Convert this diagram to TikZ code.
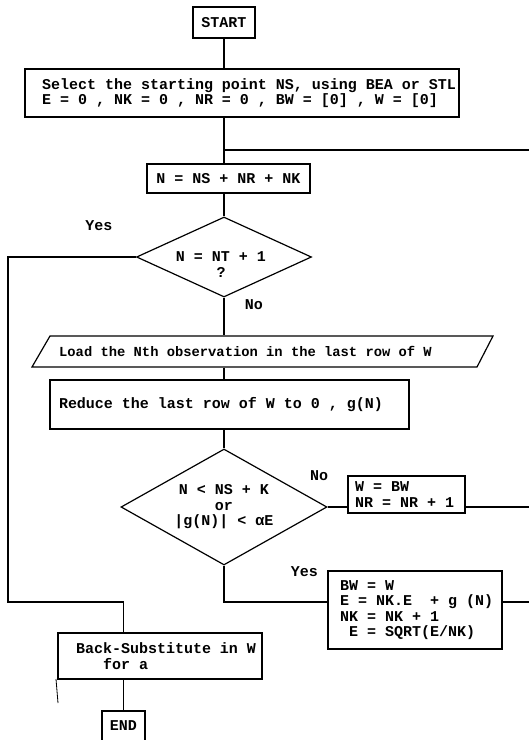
\documentclass[tikz,border=0pt]{standalone}
\usepackage{fontspec}
\newfontfamily\flowfont{Liberation Mono}
\newcommand\flowsz[2]{\fontsize{#1}{#2}\selectfont\fontdimen2\font=0.6em\fontdimen3\font=0pt\fontdimen4\font=0pt\relax}
\newcommand\monospaces{\spaceskip=0.6em\relax\xspaceskip=0.6em\relax}
\usetikzlibrary{shapes.geometric}
\begin{document}
\begin{tikzpicture}[x=1pt,y=-1pt,line width=1.2pt,
  txt/.style={font=\flowfont\bfseries\flowsz{15}{15.5},execute at begin node={\monospaces}},
  box/.style={txt,draw,align=left,inner ysep=0pt},
  decision/.style={txt,draw,shape=diamond,inner sep=0pt,align=center},
  lbl/.style={txt,inner sep=0pt}]
\useasboundingbox (0,0) rectangle (529,740);
% boxes
\node[box,minimum width=62pt,minimum height=31pt] (start) at (224,22.5) {START};
\node[box,text width=400pt,inner xsep=17pt,minimum height=48pt] (init) at (242,93)
  {\mbox{\monospaces Select the starting point NS, using BEA or STL}\\\mbox{\monospaces E = 0 , NK = 0 , NR = 0 , BW = [0] , W = [0]}};
\node[box,minimum width=163pt,minimum height=29pt] (nbox) at (228.5,178.5) {N = NS + NR + NK};
\node[decision,aspect=2.19,minimum width=175pt,minimum height=80pt] (d1) at (224,257) {};
\node[lbl,align=center] (d1text) at (221,264.5) {N = NT + 1\\?};
\node[lbl,font=\flowfont\bfseries\flowsz{13.8}{15},minimum height=31pt] (load) at (245.5,351.5)
  {Load the Nth observation in the last row of W};
\draw (50,336) -- (493,336) -- (477,367) -- (32,367) -- cycle;
\node[box,text width=341pt,inner xsep=9pt,minimum height=49pt] (reduce) at (229.5,404.5)
  {Reduce the last row of W to 0 , g(N)};
\node[decision,aspect=1.78,minimum width=206pt,minimum height=116pt] (d2) at (224,507)
  {N < NS + K\\or\\|g(N)| < αE};
\node[box,text width=103pt,inner xsep=7pt,minimum height=37pt] (wbw) at (406.5,494.5)
  {W = BW\\NR = NR + 1};
\node[box,text width=150pt,inner xsep=12pt,minimum height=78pt] (bw) at (415,610)
  {BW = W\\\mbox{\monospaces E = NK.E~~+ g (N)}\\NK = NK + 1\\\hspace*{0.6em}E = SQRT(E/NK)};
\node[box,text width=168pt,inner xsep=18pt,minimum height=46pt] (back) at (160,656)
  {\mbox{\monospaces Back-Substitute in W}\\\hspace*{1.8em}for a};
\node[box,minimum width=43pt,minimum height=30pt] (end) at (123.5,726) {END};
% labels
\node[lbl] (yes1) at (99,226) {Yes};
\node[lbl] (no1) at (254,305) {No};
\node[lbl] (no2) at (319,476) {No};
\node[lbl] (yes2) at (304.5,572) {Yes};
% free ends
\coordinate (loopA) at (529,150);
\coordinate (yesL) at (8,602);
% connectors
\draw (start.south) -- (start.south |- init.north);
\draw (start.south |- init.south) -- (start.south |- nbox.north);
\draw (loopA) -- (loopA -| start.south);
\draw (start.south |- nbox.south) -- (d1.north);
\draw (d1.south) -- (d1.south |- load.north);
\draw (d1.south |- load.south) -- (d1.south |- reduce.north);
\draw (d1.south |- reduce.south) -- (d2.north);
\draw (d2.east) -- (d2.east -| wbw.west);
\draw (d2.east -| wbw.east) -- (d2.east -| loopA);
\draw (d1.west) -| (yesL) -- (yesL -| end.north) -- (end.north |- back.north);
\draw (d2.south) |- (yesL -| bw.west);
\draw (yesL -| bw.east) -- (yesL -| loopA);
\draw (end.north |- back.south) -- (end.north);
\draw[line width=0.8pt] (56,679) -- (58,703);
\end{tikzpicture}
\end{document}
